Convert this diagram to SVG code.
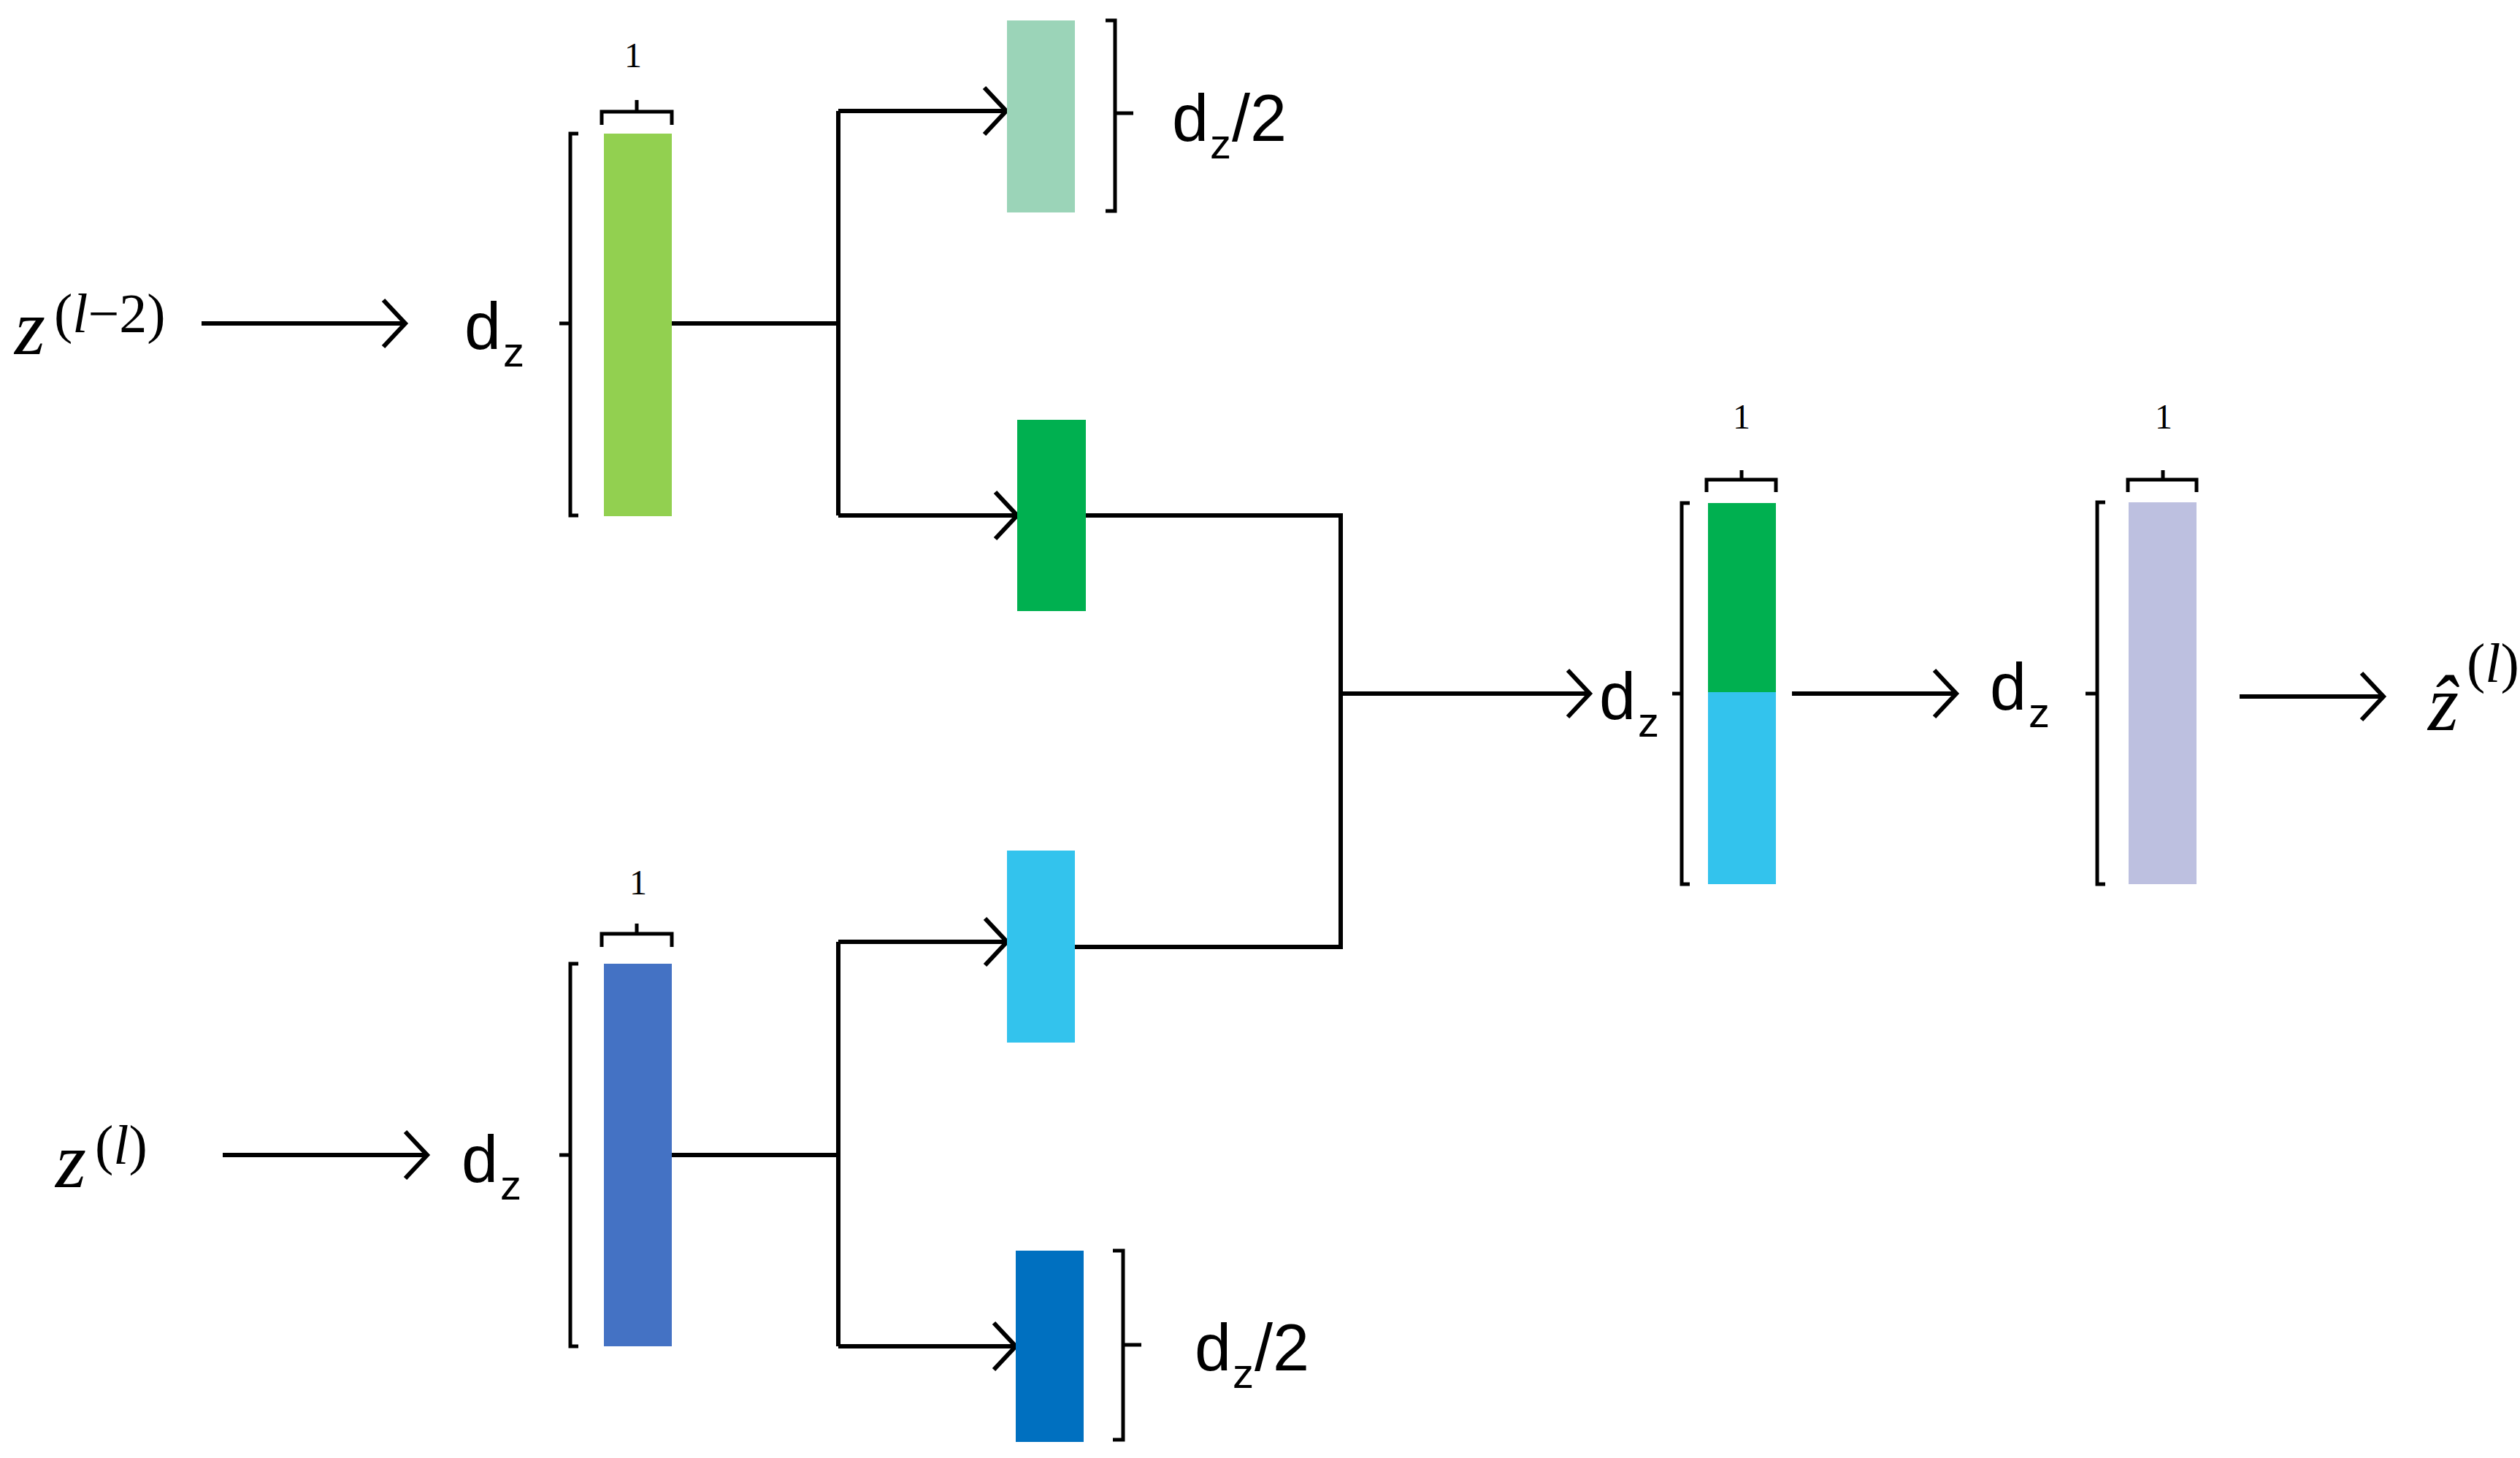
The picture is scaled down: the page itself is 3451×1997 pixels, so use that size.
<svg xmlns="http://www.w3.org/2000/svg" width="3451" height="1997" viewBox="0 0 3451 1997">
<defs>
<marker id="ah" markerUnits="userSpaceOnUse" markerWidth="60" markerHeight="80" viewBox="-40 -40 50 80" refX="0" refY="0" orient="auto" overflow="visible">
<path d="M -30 -32 L 0 0 L -30 32" fill="none" stroke="#000" stroke-width="6"/>
</marker>
<style>
.ln{fill:none;stroke:#000;stroke-width:6}
.ar{fill:none;stroke:#000;stroke-width:6;marker-end:url(#ah)}
.br{fill:none;stroke:#000;stroke-width:5}
.d{font-family:"Liberation Sans",Arial,sans-serif;font-size:90px;fill:#000}
.s{font-family:"Liberation Sans",Arial,sans-serif;font-size:58px;fill:#000}
.one{font-family:"Liberation Serif","Times New Roman",serif;font-size:48px;fill:#000}
.m{font-family:"Liberation Serif","Times New Roman",serif;font-style:italic;font-size:108px;fill:#000}
.ms{font-family:"Liberation Serif","Times New Roman",serif;font-size:76px;fill:#000}
.i{font-style:italic}
</style>
</defs>
<rect width="3451" height="1997" fill="#fff"/>

<g id="connectors">
<line class="ar" x1="276" y1="443" x2="555" y2="443"/>
<line class="ar" x1="305" y1="1582" x2="585" y2="1582"/>
<polyline class="ln" points="920,443 1148,443"/>
<polyline class="ln" points="1148,152 1148,706"/>
<line class="ar" x1="1148" y1="152" x2="1378" y2="152"/>
<line class="ar" x1="1148" y1="706" x2="1393" y2="706"/>
<polyline class="ln" points="920,1582 1148,1582"/>
<polyline class="ln" points="1148,1290 1148,1844"/>
<line class="ar" x1="1148" y1="1290" x2="1379" y2="1290"/>
<line class="ar" x1="1148" y1="1844" x2="1391" y2="1844"/>
<polyline class="ln" points="1487,706 1836,706 1836,1297 1472,1297"/>
<line class="ar" x1="1836" y1="950" x2="2177" y2="950"/>
<line class="ar" x1="2454" y1="950" x2="2679" y2="950"/>
<line class="ar" x1="3067" y1="954" x2="3264" y2="954"/>
</g>

<g id="input-top">
<text class="m" x="20" y="485">z</text>
<text class="ms" x="74" y="455">(<tspan class="i">l</tspan>−2)</text>
</g>
<g id="input-bottom">
<text class="m" x="76" y="1626">z</text>
<text class="ms" x="130" y="1594">(<tspan class="i">l</tspan>)</text>
</g>

<g id="vec-top">
<rect x="827" y="183" width="93" height="524" fill="#92D050"/>
<path class="br" d="M792 183 H781 V706 H792 M781 443 H766"/>
<path class="br" d="M824 171 V153 H920 V171 M872 153 V137"/>
<text class="one" x="855" y="92">1</text>
<text class="d" x="636" y="478">d</text><text class="s" x="689" y="502">z</text>
</g>

<g id="vec-bottom">
<rect x="827" y="1320" width="93" height="524" fill="#4472C4"/>
<path class="br" d="M792 1320 H781 V1844 H792 M781 1582 H766"/>
<path class="br" d="M824 1297 V1279 H920 V1297 M872 1279 V1265"/>
<text class="one" x="862" y="1225">1</text>
<text class="d" x="632" y="1619">d</text><text class="s" x="685" y="1643">z</text>
</g>

<g id="half-top-a">
<rect x="1379" y="28" width="93" height="263" fill="#9BD4B8"/>
<path class="br" d="M1514 28 H1527 V289 H1514 M1527 155 H1552"/>
<text class="d" x="1605" y="193">d</text><text class="s" x="1657" y="217">z</text><text class="d" x="1687" y="193" font-size="84">/2</text>
</g>
<g id="half-top-b">
<rect x="1393" y="575" width="94" height="262" fill="#00B050"/>
</g>
<g id="half-bottom-a">
<rect x="1379" y="1165" width="93" height="263" fill="#33C3ED"/>
</g>
<g id="half-bottom-b">
<rect x="1391" y="1713" width="93" height="262" fill="#0070C0"/>
<path class="br" d="M1524 1713 H1538 V1972 H1524 M1538 1842 H1563"/>
<text class="d" x="1636" y="1877">d</text><text class="s" x="1688" y="1901">z</text><text class="d" x="1718" y="1877" font-size="84">/2</text>
</g>

<g id="concat">
<rect x="2339" y="689" width="93" height="260" fill="#00B050"/>
<rect x="2339" y="948" width="93" height="263" fill="#33C3ED"/>
<path class="br" d="M2314 689 H2303 V1211 H2314 M2303 950 H2290"/>
<path class="br" d="M2337 674 V657 H2432 V674 M2385 657 V644"/>
<text class="one" x="2373" y="587">1</text>
<text class="d" x="2190" y="985">d</text><text class="s" x="2243" y="1009">z</text>
</g>

<g id="output-vec">
<rect x="2915" y="688" width="93" height="523" fill="#BDC0E0"/>
<path class="br" d="M2883 688 H2872 V1211 H2883 M2872 950 H2856"/>
<path class="br" d="M2914 674 V657 H3008 V674 M2962 657 V644"/>
<text class="one" x="2951" y="587">1</text>
<text class="d" x="2725" y="972">d</text><text class="s" x="2778" y="996">z</text>
</g>

<g id="output">
<text class="m" x="3325" y="1000">ẑ</text>
<text class="ms" x="3378" y="934" font-size="44">(<tspan class="i">l</tspan>)</text>
</g>
</svg>
